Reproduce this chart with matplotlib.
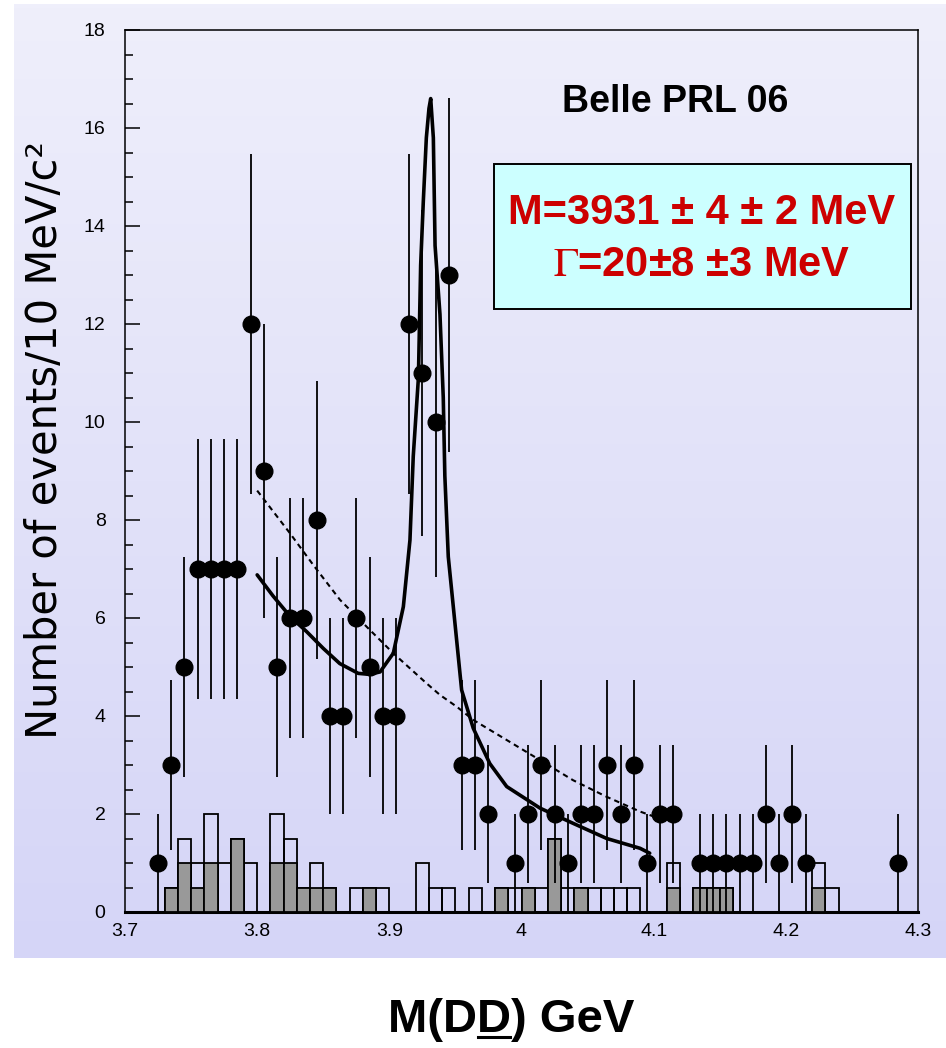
import matplotlib
matplotlib.use("Agg")
import matplotlib.pyplot as plt
import numpy as np
from matplotlib.patches import Rectangle
from matplotlib.lines import Line2D
from matplotlib.ticker import MultipleLocator

plt.rcParams["mathtext.fontset"] = "stix"

# 10 MeV bins from 3.72 to 4.29 GeV
bin_edges_lo = np.round(np.arange(3.72, 4.285, 0.01), 3)
bin_width = 0.01

# signal-region candidates per bin
counts = [1, 3, 5, 7, 7, 7, 7, 12, 9, 5, 6, 6, 8, 4, 4, 6, 5, 4, 4,
          12, 11, 10, 13, 3, 3, 2, 0, 1, 2, 3, 2, 1, 2, 2, 3, 2, 3, 1,
          2, 2, 0, 1, 1, 1, 1, 1, 2, 1, 2, 1, 0, 0, 0, 0, 0, 0, 1]

# sideband histograms (open and shaded)
side_open = [0, 0.5, 1.5, 1.0, 2.0, 1.0, 1.5, 1.0, 0, 2.0,
             1.5, 0.5, 1.0, 0.5, 0, 0.5, 0.5, 0.5, 0, 0,
             1.0, 0.5, 0.5, 0, 0.5, 0, 0.5, 0.5, 0.5, 0.5,
             1.5, 0.5, 0.5, 0.5, 0.5, 0.5, 0.5, 0, 0, 1.0,
             0, 0.5, 0.5, 0.5, 0, 0, 0, 0, 0, 0,
             1.0, 0.5, 0, 0, 0, 0, 0]
side_gray = [0, 0.5, 1.0, 0.5, 1.0, 0, 1.5, 0, 0, 1.0,
             1.0, 0.5, 0.5, 0.5, 0, 0, 0.5, 0, 0, 0,
             0, 0, 0, 0, 0, 0, 0.5, 0, 0.5, 0,
             1.5, 0, 0.5, 0, 0, 0, 0, 0, 0, 0.5,
             0, 0.5, 0.5, 0.5, 0, 0, 0, 0, 0, 0,
             0.5, 0, 0, 0, 0, 0, 0]

# fit curve (signal + background)
fit_x = [3.800, 3.812, 3.825, 3.8375, 3.850, 3.8625, 3.8765, 3.885, 3.893,
         3.903, 3.9106, 3.9156, 3.9181, 3.922, 3.9237, 3.9257, 3.928, 3.930,
         3.9313, 3.9333, 3.9346, 3.9383, 3.9408, 3.9420, 3.9446, 3.9484,
         3.9547, 3.9635, 3.976, 3.9888, 4.014, 4.039, 4.0645, 4.0897, 4.097]
fit_y = [6.88, 6.45, 6.03, 5.72, 5.38, 5.07, 4.87, 4.85, 4.90,
         5.28, 6.23, 7.59, 9.3, 10.9, 13.2, 14.5, 15.8, 16.4,
         16.6, 15.8, 13.6, 12.2, 10.5, 8.9, 7.25, 6.23,
         4.53, 3.75, 3.03, 2.56, 2.12, 1.81, 1.50, 1.30, 1.20]

# dashed curve
dash_x = [3.800, 3.8248, 3.8425, 3.8627, 3.8829, 3.903, 3.928, 3.9383,
          3.951, 3.9635, 3.9888, 4.014, 4.039, 4.0645, 4.0897, 4.100]
dash_y = [8.6, 7.73, 7.08, 6.37, 5.82, 5.28, 4.67, 4.43,
          4.19, 3.92, 3.51, 3.10, 2.69, 2.35, 2.05, 1.95]

xtick_vals = [3.7, 3.8, 3.9, 4.0, 4.1, 4.2, 4.3]
xtick_text = ["3.7", "3.8", "3.9", "4", "4.1", "4.2", "4.3"]

W, H = 946, 1048
fig = plt.figure(figsize=(W / 100, H / 100), dpi=100)
fig.patch.set_facecolor("white")


def fx(px):
    return px / W


def fy(py):
    return 1 - py / H


# lavender gradient panel
bg = fig.add_axes([fx(14), fy(958), fx(946) - fx(14), fy(4) - fy(958)], zorder=-5)
top = np.array([239, 239, 251]) / 255
bot = np.array([213, 213, 247]) / 255
t = np.linspace(0, 1, 256)[:, None]
grad = (top[None, :] * (1 - t) + bot[None, :] * t)[:, None, :]
bg.imshow(grad, aspect="auto", extent=(0, 1, 0, 1))
bg.axis("off")

ax = fig.add_axes([fx(125), fy(912), fx(918) - fx(125), fy(30) - fy(912)])
ax.set_facecolor("none")

centres = bin_edges_lo + bin_width / 2
open_h = np.array(side_open)
gray_h = np.array(side_gray)
m = open_h > 0
ax.bar(bin_edges_lo[m], open_h[m], width=bin_width, align="edge",
       facecolor="none", edgecolor="black", linewidth=1.3, zorder=2)
m = gray_h > 0
ax.bar(bin_edges_lo[m], gray_h[m], width=bin_width, align="edge",
       facecolor="#999999", edgecolor="black", linewidth=1.3, zorder=3)

n = np.array(counts, dtype=float)
m = n > 0
ax.errorbar(centres[m], n[m], yerr=np.sqrt(n[m]), fmt="o", color="black",
            ms=12, elinewidth=1.3, capsize=0, zorder=5)

ax.plot(fit_x, fit_y, color="black", lw=2.6, zorder=6, solid_capstyle="round")
ax.plot(dash_x, dash_y, color="black", lw=1.5, dashes=(2.6, 2), zorder=6)

ax.set_xlim(3.7, 4.3)
ax.set_ylim(0, 18)
ax.yaxis.set_major_locator(MultipleLocator(2))
ax.yaxis.set_minor_locator(MultipleLocator(0.5))
ax.set_xticks(xtick_vals)
ax.set_xticklabels(xtick_text)
ax.tick_params(axis="y", which="major", direction="in", length=11, width=1.1,
               pad=14, labelsize=14)
ax.tick_params(axis="y", which="minor", direction="in", length=5.5, width=1.1)
ax.tick_params(axis="x", which="both", length=0, pad=8, labelsize=14)
for lab in ax.get_xticklabels() + ax.get_yticklabels():
    lab.set_family("Liberation Sans")
for side in ["left", "top", "right"]:
    ax.spines[side].set_linewidth(1.1)
ax.spines["bottom"].set_linewidth(2.2)

# y label
fig.text(fx(45), fy(440), "Number of events/10 MeV/c²", rotation=90,
         ha="center", va="center", fontsize=30, family="DejaVu Sans")

fig.text(fx(675), fy(102), "Belle PRL 06", ha="center", va="center",
         fontsize=27, fontweight="bold", family="Liberation Sans")

box = Rectangle((fx(494), fy(309)), fx(911) - fx(494), fy(164) - fy(309),
                transform=fig.transFigure, facecolor="#CCFFFF",
                edgecolor="black", linewidth=1.4, zorder=8)
fig.add_artist(box)
red = "#CC0000"
fig.text(fx(702), fy(213), "M=3931 ± 4 ± 2 MeV", ha="center", va="center",
         fontsize=30, fontweight="bold", color=red, family="Liberation Sans",
         zorder=9)
fig.text(fx(702), fy(265), r"$\Gamma$=20±8 ±3 MeV", ha="center", va="center",
         fontsize=30, fontweight="bold", color=red, family="Liberation Sans",
         zorder=9)

# x label with underlined second D
xl_props = dict(fontsize=34, fontweight="bold", family="Liberation Sans")
xl = fig.text(fx(511), fy(1020), "M(DD) GeV", ha="center", va="center", **xl_props)
fig.canvas.draw()
r = fig.canvas.get_renderer()
full = xl.get_window_extent(r)
tmp1 = fig.text(0, 0, "M(D", **xl_props)
tmp2 = fig.text(0, 0, "M(DD", **xl_props)
w1 = tmp1.get_window_extent(r).width
w2 = tmp2.get_window_extent(r).width
tmp1.remove()
tmp2.remove()
uy = full.y0 + full.height * 0.12
fig.add_artist(Line2D([(full.x0 + w1 + 1) / W, (full.x0 + w2 - 1) / W],
                      [uy / H, uy / H], transform=fig.transFigure,
                      color="black", lw=2.2))

fig.savefig("out.png", dpi=100)
